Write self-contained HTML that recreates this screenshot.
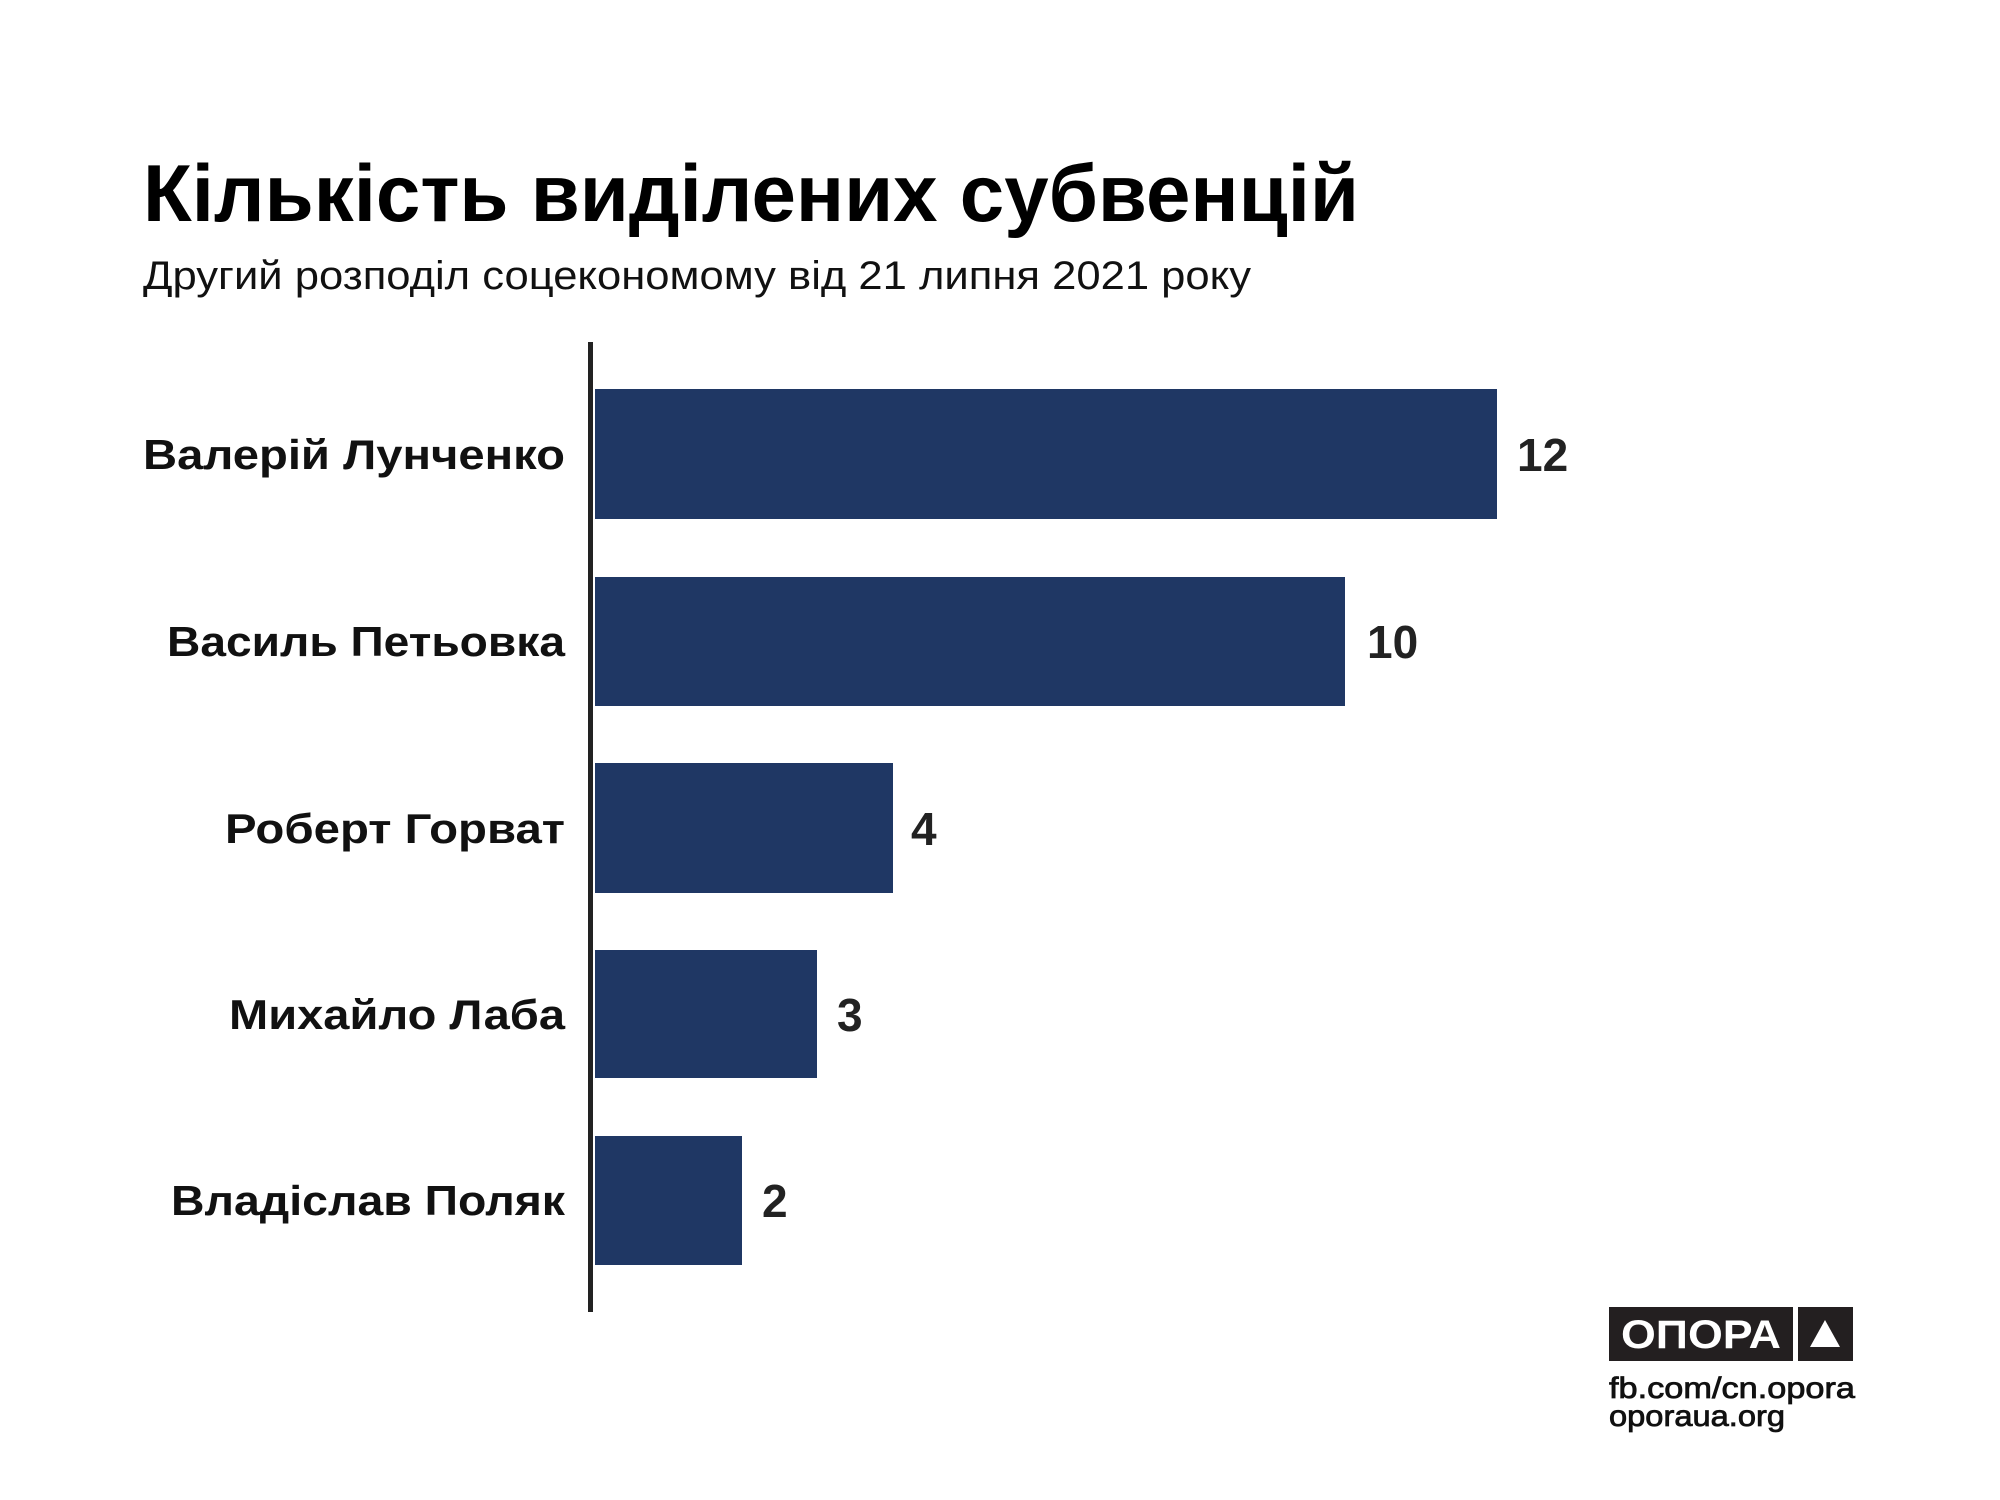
<!DOCTYPE html>
<html><head><meta charset="utf-8"><style>html,body{margin:0;padding:0;background:#fff}svg{display:block}</style></head>
<body>
<svg width="2000" height="1500" viewBox="0 0 2000 1500" xmlns="http://www.w3.org/2000/svg" font-family="Liberation Sans, DejaVu Sans, sans-serif">
<rect width="2000" height="1500" fill="#fff"/>
<text x="143" y="221" font-size="81" font-weight="bold" fill="#000" textLength="1216" lengthAdjust="spacingAndGlyphs">Кількість виділених субвенцій</text>
<text x="143" y="289" font-size="40" fill="#111" textLength="1108" lengthAdjust="spacingAndGlyphs">Другий розподіл соцекономому від 21 липня 2021 року</text>
<g fill="#1f3764">
<rect x="595" y="389" width="902" height="130"/>
<rect x="595" y="577" width="750" height="129"/>
<rect x="595" y="763" width="298" height="130"/>
<rect x="595" y="950" width="222" height="128"/>
<rect x="595" y="1136" width="147" height="129"/>
</g>
<rect x="588" y="342" width="5" height="970" fill="#222"/>
<g font-size="42" font-weight="bold" fill="#111" text-anchor="end">
<text x="565" y="469" textLength="422" lengthAdjust="spacingAndGlyphs">Валерій Лунченко</text>
<text x="565" y="656" textLength="398" lengthAdjust="spacingAndGlyphs">Василь Петьовка</text>
<text x="565" y="843" textLength="340" lengthAdjust="spacingAndGlyphs">Роберт Горват</text>
<text x="565" y="1029" textLength="336" lengthAdjust="spacingAndGlyphs">Михайло Лаба</text>
<text x="565" y="1215" textLength="394" lengthAdjust="spacingAndGlyphs">Владіслав Поляк</text>
</g>
<g font-size="46" font-weight="bold" fill="#222">
<text x="1517" y="471">12</text>
<text x="1367" y="658">10</text>
<text x="911" y="845">4</text>
<text x="837" y="1031">3</text>
<text x="762" y="1217">2</text>
</g>
<rect x="1609" y="1307" width="184" height="54" fill="#231f20"/>
<text x="1701" y="1348" font-size="40" font-weight="bold" fill="#fff" text-anchor="middle" textLength="160" lengthAdjust="spacingAndGlyphs">ОПОРА</text>
<rect x="1798" y="1307" width="55" height="54" fill="#231f20"/>
<polygon points="1825,1320 1840,1347 1810,1347" fill="#fff"/>
<text x="1609" y="1398" font-size="30" fill="#111" stroke="#111" stroke-width="0.8" textLength="246" lengthAdjust="spacingAndGlyphs">fb.com/cn.opora</text>
<text x="1609" y="1426" font-size="30" fill="#111" stroke="#111" stroke-width="0.8" textLength="176" lengthAdjust="spacingAndGlyphs">oporaua.org</text>
</svg>
</body></html>
